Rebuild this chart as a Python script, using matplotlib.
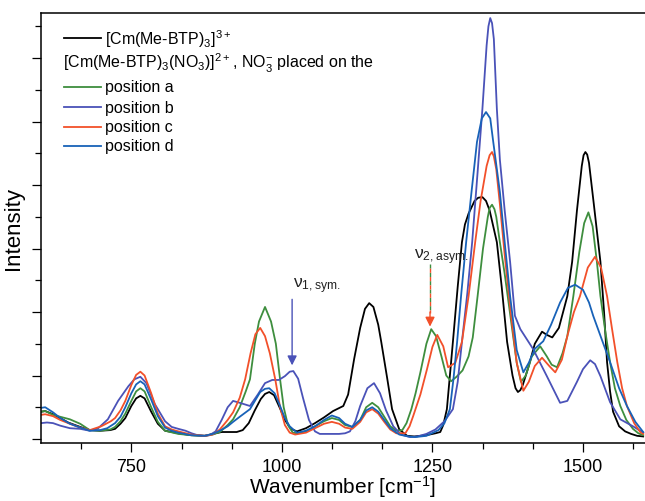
import numpy as np
import matplotlib.pyplot as plt
from matplotlib.lines import Line2D
from matplotlib.ticker import MultipleLocator

plt.rcParams['font.family'] = ['Liberation Sans', 'DejaVu Sans']
plt.rcParams['mathtext.default'] = 'regular'

# spectra (wavenumber in cm-1, intensity in arbitrary units)
black_w = [600, 607, 620, 632, 645, 665, 681, 698, 715, 723, 732, 740, 750, 758, 765, 772, 783, 794, 806, 828,
           849, 872, 885, 900, 925, 935, 945, 955, 965, 972, 979, 987, 997, 1005, 1015, 1025, 1040, 1055, 1070, 1085,
           1102, 1110, 1120, 1130, 1138, 1145, 1152, 1160, 1165, 1175, 1183, 1195, 1208, 1220, 1240, 1255, 1263, 1268,
           1274, 1284, 1292, 1299, 1304, 1310, 1320, 1326, 1333, 1339, 1345, 1357, 1365, 1374, 1383, 1388, 1392, 1396,
           1400, 1410, 1420, 1432, 1440, 1449, 1460, 1474, 1482, 1490, 1498, 1501, 1504, 1507, 1510, 1518, 1529, 1535,
           1540, 1545, 1550, 1560, 1570, 1580, 1590, 1600]
black_i = [0.43, 0.44, 0.39, 0.33, 0.26, 0.19, 0.14, 0.13, 0.14, 0.16, 0.24, 0.33, 0.52, 0.64, 0.68, 0.64, 0.43, 0.24, 0.13, 0.09,
           0.06, 0.05, 0.08, 0.11, 0.11, 0.14, 0.25, 0.45, 0.63, 0.71, 0.74, 0.69, 0.48, 0.3, 0.16, 0.12, 0.17, 0.25, 0.34, 0.44,
           0.52, 0.7, 1.26, 1.75, 2.05, 2.14, 2.08, 1.8, 1.53, 0.95, 0.47, 0.15, 0.05, 0.04, 0.06, 0.09, 0.11, 0.22,
           0.47, 1.53, 2.4, 3.1, 3.38, 3.55, 3.75, 3.8, 3.81, 3.75, 3.6, 3.1, 2.4, 1.53, 1.0, 0.8, 0.74, 0.77,
           0.85, 1.15, 1.5, 1.69, 1.64, 1.6, 1.75, 2.25, 2.79, 3.6, 4.3, 4.47, 4.52, 4.48, 4.35, 3.7, 2.79, 2.0,
           1.21, 0.75, 0.43, 0.2, 0.12, 0.08, 0.05, 0.04]

green_w = [600, 607, 620, 632, 648, 665, 681, 698, 715, 723, 732, 740, 750, 758, 765, 772, 783, 794, 806, 828,
           849, 872, 885, 897, 910, 919, 930, 940, 947, 955, 962, 972, 982, 990, 997, 1003, 1010, 1018, 1025, 1040,
           1055, 1070, 1083, 1095, 1105, 1117, 1130, 1140, 1150, 1160, 1170, 1180, 1190, 1200, 1207, 1215, 1222, 1230,
           1240, 1248, 1256, 1265, 1273, 1281, 1290, 1300, 1310, 1317, 1325, 1334, 1342, 1345, 1349, 1353, 1356, 1362,
           1370, 1380, 1390, 1397, 1405, 1415, 1429, 1440, 1448, 1457, 1466, 1474, 1484, 1494, 1502, 1509, 1516, 1523,
           1529, 1537, 1545, 1553, 1562, 1572, 1583, 1592, 1600]
green_i = [0.43, 0.44, 0.38, 0.35, 0.31, 0.24, 0.14, 0.13, 0.15, 0.19, 0.28, 0.4, 0.6, 0.75, 0.8, 0.75, 0.5, 0.27, 0.13, 0.08,
           0.06, 0.05, 0.07, 0.11, 0.22, 0.31, 0.5, 0.75, 0.94, 1.5, 1.85, 2.08, 1.85, 1.5, 0.94, 0.5, 0.22, 0.1, 0.09, 0.12,
           0.2, 0.28, 0.33, 0.3, 0.22, 0.19, 0.3, 0.5, 0.57, 0.5, 0.35, 0.2, 0.13, 0.14, 0.25, 0.47, 0.72, 1.05,
           1.5, 1.73, 1.62, 1.3, 1.0, 0.91, 0.98, 1.08, 1.3, 1.6, 2.25, 3.0, 3.5, 3.64, 3.69, 3.62, 3.5, 3.1,
           2.6, 1.9, 1.2, 0.9, 1.0, 1.3, 1.46, 1.3, 1.17, 1.13, 1.35, 1.62, 2.25, 2.95, 3.4, 3.57, 3.35, 2.8,
           2.25, 1.7, 1.21, 0.8, 0.52, 0.3, 0.16, 0.09, 0.06]

purple_w = [600, 610, 620, 632, 648, 665, 681, 695, 711, 728, 745, 755, 765, 775, 789, 806, 817, 828, 840, 850,
            860, 870, 880, 890, 900, 910, 919, 930, 947, 960, 972, 984, 995, 1005, 1013, 1019, 1027, 1035, 1045, 1055,
            1063, 1080, 1095, 1105, 1113, 1122, 1130, 1142, 1153, 1163, 1173, 1185, 1198, 1213, 1225, 1240, 1255, 1270,
            1284, 1292, 1299, 1308, 1316, 1325, 1333, 1340, 1343, 1346, 1349, 1352, 1357, 1362, 1370, 1379, 1387, 1396,
            1417, 1440, 1462, 1474, 1490, 1500, 1512, 1520, 1529, 1545, 1562, 1583, 1600]
purple_i = [0.25, 0.26, 0.25, 0.21, 0.17, 0.16, 0.13, 0.17, 0.31, 0.6, 0.83, 0.94, 0.98, 0.88, 0.55, 0.28, 0.19, 0.16, 0.13, 0.09,
            0.06, 0.05, 0.06, 0.12, 0.3, 0.5, 0.6, 0.57, 0.52, 0.7, 0.88, 0.93, 0.93, 0.99, 1.06, 1.07, 0.95, 0.65, 0.3, 0.12,
            0.08, 0.08, 0.08, 0.09, 0.12, 0.28, 0.52, 0.8, 0.88, 0.72, 0.45, 0.2, 0.07, 0.03, 0.04, 0.08, 0.15, 0.28,
            0.47, 0.9, 1.53, 2.3, 3.1, 4.2, 5.2, 6.2, 6.5, 6.63, 6.55, 6.3, 5.2, 4.4, 3.6, 2.79, 1.94, 1.73,
            1.42, 0.99, 0.57, 0.6, 0.9, 1.1, 1.24, 1.18, 0.99, 0.58, 0.31, 0.2, 0.1]

red_w = [600, 607, 620, 632, 648, 665, 681, 700, 716, 723, 732, 740, 750, 758, 765, 772, 783, 794, 806, 817,
         828, 849, 872, 885, 897, 910, 919, 930, 939, 948, 956, 964, 972, 980, 989, 997, 1005, 1013, 1022, 1040,
         1055, 1070, 1083, 1095, 1105, 1117, 1130, 1140, 1150, 1160, 1170, 1180, 1190, 1205, 1212, 1218, 1230, 1241,
         1250, 1258, 1268, 1276, 1288, 1299, 1310, 1321, 1330, 1340, 1345, 1349, 1352, 1356, 1362, 1370, 1380, 1390,
         1401, 1410, 1420, 1432, 1444, 1454, 1465, 1474, 1485, 1495, 1508, 1520, 1530, 1540, 1548, 1557, 1565, 1573,
         1585, 1595, 1600]
red_i = [0.38, 0.39, 0.36, 0.3, 0.24, 0.18, 0.14, 0.2, 0.28, 0.33, 0.45, 0.6, 0.85, 1.01, 1.06, 1.0, 0.72, 0.4, 0.2, 0.15,
         0.12, 0.07, 0.05, 0.07, 0.15, 0.3, 0.42, 0.65, 0.94, 1.35, 1.65, 1.75, 1.62, 1.35, 0.94, 0.5, 0.22, 0.1, 0.07, 0.1,
         0.17, 0.24, 0.27, 0.24, 0.18, 0.16, 0.27, 0.42, 0.47, 0.4, 0.27, 0.15, 0.09, 0.09, 0.2, 0.36, 0.7, 1.1,
         1.45, 1.64, 1.46, 1.13, 1.2, 1.53, 2.25, 3.1, 3.75, 4.3, 4.47, 4.52, 4.45, 4.25, 3.7, 2.9, 2.0, 1.2,
         0.76, 0.9, 1.15, 1.28, 1.15, 1.05, 1.25, 1.62, 2.0, 2.25, 2.7, 2.87, 2.7, 2.25, 1.75, 1.21, 0.8, 0.52,
         0.25, 0.11, 0.08]

blue_w = [600, 607, 620, 632, 648, 665, 681, 698, 710, 723, 732, 740, 750, 758, 765, 772, 783, 794, 806, 817,
          828, 849, 872, 885, 897, 910, 919, 930, 947, 964, 972, 979, 988, 997, 1005, 1013, 1025, 1040, 1055, 1070,
          1083, 1095, 1105, 1117, 1130, 1140, 1150, 1160, 1170, 1180, 1195, 1210, 1221, 1240, 1260, 1270, 1279, 1285,
          1291, 1298, 1306, 1315, 1324, 1332, 1339, 1346, 1351, 1362, 1370, 1379, 1390, 1401, 1410, 1420, 1434, 1447,
          1462, 1475, 1487, 1500, 1510, 1517, 1530, 1545, 1560, 1573, 1587, 1600]
blue_i = [0.49, 0.5, 0.42, 0.33, 0.24, 0.18, 0.13, 0.14, 0.17, 0.25, 0.35, 0.5, 0.72, 0.86, 0.91, 0.86, 0.62, 0.36, 0.18, 0.13,
          0.1, 0.06, 0.05, 0.08, 0.13, 0.2, 0.27, 0.35, 0.47, 0.74, 0.79, 0.8, 0.72, 0.52, 0.33, 0.2, 0.1, 0.13, 0.2, 0.3,
          0.37, 0.33, 0.24, 0.19, 0.3, 0.45, 0.5, 0.43, 0.3, 0.17, 0.07, 0.04, 0.03, 0.05, 0.14, 0.25, 0.47, 0.95,
          1.53, 2.3, 3.1, 3.9, 4.68, 5.05, 5.15, 5.05, 4.68, 3.89, 3.1, 2.25, 1.4, 1.05, 1.2, 1.42, 1.54, 1.8,
          2.15, 2.38, 2.43, 2.35, 2.15, 1.94, 1.6, 1.21, 0.8, 0.52, 0.27, 0.11]

labels = ['[Cm(Me-BTP)$_3$]$^{3+}$', 'position a', 'position b', 'position c', 'position d']
colors = ['#000000', '#3e8e3e', '#4a52b8', '#f2502a', '#1862b8']
series = [(black_w, black_i), (green_w, green_i), (purple_w, purple_i), (red_w, red_i), (blue_w, blue_i)]

fig = plt.figure(figsize=(6.45, 5.02), dpi=100)
ax = fig.add_axes([41 / 645, 58 / 502, 604 / 645, 430 / 502])

for (w, i), c in zip(series, colors):
    ax.plot(w, i, color=c, lw=1.3, solid_joinstyle='round')

ax.set_xlim(600, 1603)
ax.set_ylim(-0.063, 6.71)
ax.xaxis.set_major_locator(MultipleLocator(250))
ax.xaxis.set_minor_locator(MultipleLocator(250 / 3))
ax.yaxis.set_major_locator(MultipleLocator(1))
ax.yaxis.set_minor_locator(MultipleLocator(0.5))
ax.tick_params(which='both', direction='out', width=0.9, top=False, right=False)
ax.tick_params(which='major', length=6.5, labelsize=13, pad=4)
ax.tick_params(which='minor', length=4)
ax.tick_params(axis='y', labelleft=False)
ax.spines['right'].set_visible(False)
for s in ['left', 'bottom', 'top']:
    ax.spines[s].set_linewidth(1.1)

ax.set_xlabel('Wavenumber [cm$^{-1}$]', fontsize=15, labelpad=-1)
ax.set_ylabel('Intensity', fontsize=16, labelpad=5)

# legend drawn by hand (second row is a header without a line)
rows_y = [0.942, 0.884, 0.828, 0.781, 0.735, 0.691]
ax.add_line(Line2D([0.038, 0.099], [rows_y[0]] * 2, transform=ax.transAxes, color=colors[0], lw=1.3))
ax.text(0.106, rows_y[0], labels[0], transform=ax.transAxes, fontsize=11.5, va='center')
ax.text(0.036, rows_y[1], '[Cm(Me-BTP)$_3$(NO$_3$)]$^{2+}$, NO$_3^{-}$ placed on the',
        transform=ax.transAxes, fontsize=11.5, va='center')
for k in range(1, 5):
    y = rows_y[k + 1]
    ax.add_line(Line2D([0.038, 0.099], [y, y], transform=ax.transAxes, color=colors[k], lw=1.3))
    ax.text(0.106, y, labels[k], transform=ax.transAxes, fontsize=11.5, va='center')

# nu_1 sym. arrow
ax.annotate('', xy=(1017, 1.16), xytext=(1017, 2.2),
            arrowprops=dict(arrowstyle='-|>', color=colors[2], lw=1.0, mutation_scale=14, shrinkA=0, shrinkB=0))
ax.text(1018, 2.42, 'ν$_{1,sym.}$', fontsize=12.5, color='#222222', va='center')

# nu_2 asym. arrow, dashes alternating green and red
ax.plot([1246, 1246], [2.76, 1.98], color=colors[1], lw=1.0, linestyle=(0, (3, 3)))
ax.plot([1246, 1246], [2.76, 1.98], color=colors[3], lw=1.0, linestyle=(3, (3, 3)))
ax.annotate('', xy=(1246, 1.77), xytext=(1246, 2.0),
            arrowprops=dict(arrowstyle='-|>', color=colors[3], lw=1.0, mutation_scale=14, shrinkA=0, shrinkB=0))
ax.text(1220, 2.88, 'ν$_{2,asym.}$', fontsize=12.5, color='#222222', va='center')

fig.savefig('out.png', dpi=100)
